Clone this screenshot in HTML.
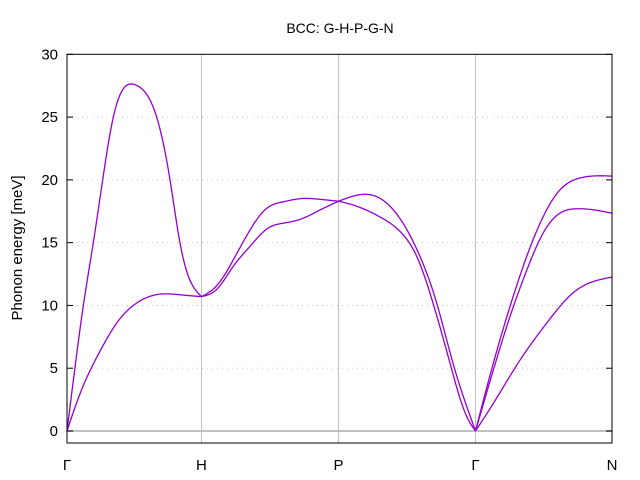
<!DOCTYPE html>
<html><head><meta charset="utf-8"><style>
html,body{margin:0;padding:0;background:#fff}
svg{display:block;font-family:"Liberation Sans","DejaVu Sans",sans-serif}
</style></head><body>
<svg id="chart" width="640" height="480" viewBox="0 0 640 480" xmlns="http://www.w3.org/2000/svg">
<rect width="640" height="480" fill="#fff"/>
<text x="340" y="33" font-size="14" text-anchor="middle">BCC: G-H-P-G-N</text>
<text transform="translate(22,248) rotate(-90)" font-size="15" text-anchor="middle">Phonon energy [meV]</text>
<g id="grid"></g><g id="series"></g><g id="axes"></g>
</svg>
<script>
const yTicks=[0,5,10,15,20,25,30];
const xTickPos=[0,0.987,1.993,2.998,4];
const xTickLabels=["Γ","H","P","Γ","N"];
const gh_upper=[[0,0],[0.059,5.1],[0.12,10],[0.193,15],[0.262,20],[0.34,25],[0.506,27.55],[0.658,25],[0.756,20],[0.829,15],[0.903,12],[0.987,10.7]];
const gh_lower=[[0,0],[0.095,2.95],[0.242,6.35],[0.365,8.6],[0.487,10],[0.683,10.9],[0.829,10.85],[0.987,10.7]];
const hp_upper=[[0.987,10.7],[1.101,11.6],[1.219,13.6],[1.343,16.0],[1.468,17.75],[1.586,18.25],[1.71,18.5],[1.857,18.45],[1.993,18.3]];
const hp_lower=[[0.987,10.7],[1.101,11.3],[1.219,13.1],[1.343,14.7],[1.468,16.1],[1.586,16.55],[1.71,16.85],[1.857,17.6],[1.993,18.3]];
const pg_upper=[[1.993,18.3],[2.099,18.7],[2.2,18.85],[2.346,18.15],[2.466,16.55],[2.591,13.9],[2.713,10.2],[2.833,5.4],[2.934,1.95],[2.998,0]];
const pg_lower=[[1.993,18.3],[2.099,18.0],[2.297,17.05],[2.444,15.9],[2.567,13.9],[2.686,10.2],[2.811,5.4],[2.934,1.15],[2.998,0]];
const gn_top=[[2.998,0],[3.129,5.4],[3.251,9.9],[3.374,13.9],[3.494,17.05],[3.618,19.2],[3.765,20.15],[4.0,20.3]];
const gn_mid=[[2.998,0],[3.129,4.85],[3.251,9.1],[3.374,12.8],[3.494,15.75],[3.618,17.35],[3.741,17.7],[4.0,17.35]];
const gn_bot=[[2.998,0],[3.129,2.2],[3.325,5.65],[3.521,8.6],[3.714,11.0],[4.0,12.25]];
const allSeries=[gh_upper,gh_lower,hp_upper,hp_lower,pg_upper,pg_lower,gn_top,gn_mid,gn_bot];
const L=67,R=612,T=54.3,B=443,xMin=0,xMax=4,yMin=-0.955,yMax=30;
const sx=v=>L+(v-xMin)/(xMax-xMin)*(R-L);
const sy=v=>B-(v-yMin)/(yMax-yMin)*(B-T);
const NS="http://www.w3.org/2000/svg";
function mk(tag,attrs,parent){const e=document.createElementNS(NS,tag);for(const k in attrs)e.setAttribute(k,attrs[k]);parent.appendChild(e);return e;}
const grid=document.getElementById('grid'),axes=document.getElementById('axes'),series=document.getElementById('series');
yTicks.forEach(t=>{
  if(t>0&&t<30){const g=mk('line',{x1:L,x2:R,y1:sy(t),y2:sy(t),stroke:'#c8c8c8','stroke-dasharray':'1,4','stroke-width':1},grid);
  
  }
  const tl=mk('line',{x1:L,x2:L+6,y1:sy(t),y2:sy(t),stroke:'#000'},axes);
  
  
  const tr=mk('line',{x1:R-6,x2:R,y1:sy(t),y2:sy(t),stroke:'#000'},axes);
  
  
  const tx=mk('text',{x:58,y:sy(t)+5,'font-size':15,'text-anchor':'end'},axes);
  tx.textContent=t;
  
  
});
const zl=mk('line',{x1:L,x2:R,y1:sy(0),y2:sy(0),stroke:'#c0c0c0','stroke-width':2},grid);


xTickPos.forEach((p,i)=>{
  if(i>0&&i<xTickPos.length-1){const v=mk('line',{x1:sx(p),x2:sx(p),y1:T,y2:B,stroke:'#c0c0c0','stroke-width':1},grid);
  
  }
  const tx=mk('text',{x:sx(p),y:470,'font-size':15,'text-anchor':'middle'},axes);
  tx.textContent=xTickLabels[i];
  
  
});
// natural cubic spline, sampled densely
function splinePath(pts){
  const x=pts.map(p=>p[0]),y=pts.map(p=>p[1]),n=x.length;
  const h=[],a=new Array(n).fill(0),b=new Array(n).fill(0),c=new Array(n).fill(0),r=new Array(n).fill(0);
  for(let i=0;i<n-1;i++)h.push(x[i+1]-x[i]);
  b[0]=1;b[n-1]=1;
  for(let i=1;i<n-1;i++){a[i]=h[i-1];b[i]=2*(h[i-1]+h[i]);c[i]=h[i];r[i]=6*((y[i+1]-y[i])/h[i]-(y[i]-y[i-1])/h[i-1]);}
  for(let i=1;i<n;i++){const w=a[i]/b[i-1];b[i]-=w*c[i-1];r[i]-=w*r[i-1];}
  const M=new Array(n);M[n-1]=r[n-1]/b[n-1];
  for(let i=n-2;i>=0;i--)M[i]=(r[i]-c[i]*M[i+1])/b[i];
  let d='';
  for(let i=0;i<n-1;i++){
    const steps=30;
    for(let k=(i===0?0:1);k<=steps;k++){
      const t=x[i]+h[i]*k/steps,A=(x[i+1]-t)/h[i],Bv=(t-x[i])/h[i];
      const v=A*y[i]+Bv*y[i+1]+((A*A*A-A)*M[i]+(Bv*Bv*Bv-Bv)*M[i+1])*h[i]*h[i]/6;
      d+=(d?' L':'M')+sx(t).toFixed(2)+','+sy(v).toFixed(2);
    }
  }
  return d;
}
allSeries.forEach(s=>{
  const p=mk('path',{d:splinePath(s),fill:'none',stroke:'#9400d3','stroke-width':1.3,'stroke-linejoin':'round'},series);
  
  
});
const fr=mk('rect',{x:L,y:T,width:R-L,height:B-T,fill:'none',stroke:'#000','stroke-width':1},axes);


</script>
</body></html>
